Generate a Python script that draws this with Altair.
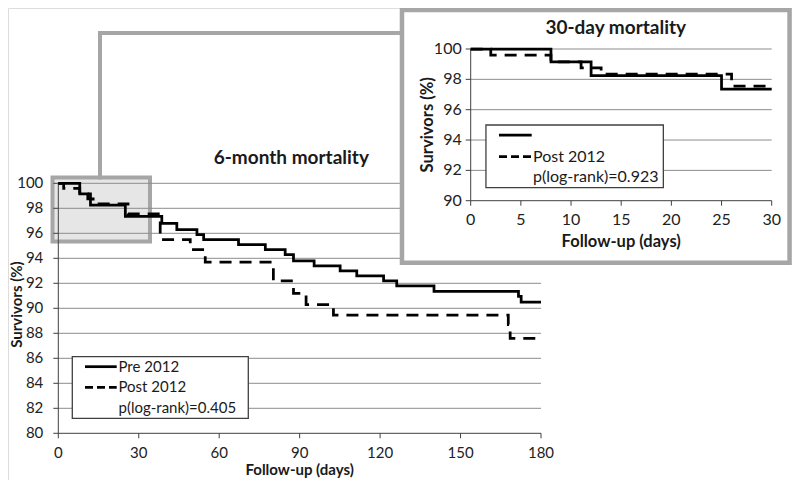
import altair as alt
import pandas as pd

# ---- data (Kaplan-Meier steps: day, survival % after the step)
PRE_DAYS = [0, 8, 12, 25, 38.6, 44.2, 51.7, 54.2, 67.2, 77.2, 84.6, 87.7, 95.4, 105.1,
            111.3, 121.3, 126.2, 140.1, 171.6, 172.6, 180]
PRE_SURV = [100, 99.15, 98.25, 97.35, 96.8, 96.3, 95.9, 95.5, 95.1, 94.7, 94.3, 93.8, 93.4,
            93.0, 92.6, 92.2, 91.8, 91.35, 90.95, 90.5, 90.5]
POST_DAYS = [0, 2, 8, 11, 13, 26, 38, 49.2, 54.8, 80.2, 87.7, 92.4, 102.6, 167.8, 168.5, 180]
POST_SURV = [100, 99.6, 99.15, 98.75, 98.35, 97.55, 95.5, 94.7, 93.7, 92.2, 91.2, 90.3,
             89.45, 88.7, 87.6, 87.6]
GROUPS = ["Pre 2012", "Post 2012"]
INSET_GROUP_LABELS = ["", "Post 2012"]

MAIN_X_TICKS = [0, 30, 60, 90, 120, 150, 180]
MAIN_Y_TICKS = [80, 82, 84, 86, 88, 90, 92, 94, 96, 98, 100]
INSET_X_TICKS = [0, 5, 10, 15, 20, 25, 30]
INSET_Y_TICKS = [90, 92, 94, 96, 98, 100]

MAIN_TITLE = "6-month mortality"
INSET_TITLE = "30-day mortality"
X_TITLE = "Follow-up (days)"
Y_TITLE = "Survivors (%)"
MAIN_P = "p(log-rank)=0.405"
INSET_P = "p(log-rank)=0.923"

# ---- annotation placements, in the data units of each panel
ZOOM_BOX = dict(x0=-2.16, x1=34.19, y0=95.34, y1=100.46)
CONNECTOR = dict(x=15.55, y=112.02, x_end=128.16)
MAIN_TITLE_POS = (86.9, 102.0)
MAIN_LEG_BOX = dict(x0=5.22, x1=70.85, y0=81.2, y1=86.13)
MAIN_LEG_SAMPLE = (9.96, 21.78)
MAIN_LEG_TEXT_X = 22.45
MAIN_LEG_ROWS = [85.33, 83.68, 82.06]

INSET_BOX = dict(x0=-6.85, x1=31.78, y0=85.91, y1=102.57)
INSET_TITLE_POS = (14.46, 101.36)
INSET_LEG_BOX = dict(x0=1.52, x1=19.2, y0=90.86, y1=94.99)
INSET_LEG_SAMPLE = (2.82, 6.08)
INSET_LEG_TEXT_X = 6.21
INSET_LEG_ROWS = [94.33, 92.90, 91.58]

W, H = 784, 472
FONT = "Lato"
GRID = "#8c8c8c"
FRAME = "#a6a6a6"
AXIS = "#404040"
INK = "#1a1a1a"

MX = alt.Scale(domain=[0, 180], range=[50.3, 533.0], nice=False, zero=False)
MY = alt.Scale(domain=[80, 100], range=[425.3, 175.3], nice=False, zero=False)
IX = alt.Scale(domain=[0, 30], range=[462.7, 763.7], nice=False, zero=False)
IY = alt.Scale(domain=[90, 100], range=[192.7, 41.0], nice=False, zero=False)


def X(field, s):
    return alt.X(field, scale=s, axis=None)


def Y(field, s):
    return alt.Y(field, scale=s, axis=None)


def curve(days, surv, limit):
    rows = []
    last = surv[0]
    for d, s in zip(days, surv):
        if d < limit:
            rows.append({"day": d, "surv": s})
            last = s
    rows.append({"day": limit, "surv": last})
    return pd.DataFrame(rows)


def rect_layer(box, sx, sy, fill, stroke, sw):
    df = pd.DataFrame([box])
    return alt.Chart(df).mark_rect(fill=fill, stroke=stroke, strokeWidth=sw).encode(
        x=X("x0:Q", sx), x2="x1:Q", y=Y("y0:Q", sy), y2="y1:Q")


def grid_layer(ticks, xdom, sx, sy):
    df = pd.DataFrame({"y": ticks, "x0": xdom[0], "x1": xdom[-1]})
    return alt.Chart(df).mark_rule(color=GRID, strokeWidth=1).encode(
        x=X("x0:Q", sx), x2="x1:Q", y=Y("y:Q", sy))


def line_layer(df, sx, sy, dash):
    kw = dict(interpolate="step-after", color="black", strokeWidth=2.75)
    if dash:
        kw["strokeDash"] = dash
    return alt.Chart(df).mark_line(**kw).encode(x=X("day:Q", sx), y=Y("surv:Q", sy))


def sample_layer(xs, y, sx, sy, dash):
    df = pd.DataFrame({"x0": [xs[0]], "x1": [xs[1]], "y": [y]})
    kw = dict(color="black", strokeWidth=2.75)
    if dash:
        kw["strokeDash"] = dash
    return alt.Chart(df).mark_rule(**kw).encode(x=X("x0:Q", sx), x2="x1:Q", y=Y("y:Q", sy))


def text_layer(xs, ys, texts, sx, sy, size, weight="normal", align="left",
               baseline="middle", angle=0, xoff=0, yoff=0, color=INK):
    df = pd.DataFrame({"x": xs, "y": ys, "t": texts})
    kw = dict(font=FONT, fontSize=size, fontWeight=weight, color=color, align=align,
              baseline=baseline, xOffset=xoff, yOffset=yoff)
    if angle:
        kw["angle"] = angle
    return alt.Chart(df).mark_text(**kw).encode(x=X("x:Q", sx), y=Y("y:Q", sy), text="t:N")


def axes_layers(xticks, yticks, sx, sy, lab_size, xlab_off, ylab_off, title_size,
                xtitle_off, ytitle_xoff, ytitle_v):
    x0, x1 = xticks[0], xticks[-1]
    y0, y1 = yticks[0], yticks[-1]
    xdom = alt.Chart(pd.DataFrame({"a": [x0], "b": [x1], "y": [y0]})).mark_rule(
        color=AXIS, strokeWidth=1).encode(x=X("a:Q", sx), x2="b:Q", y=Y("y:Q", sy))
    ydom = alt.Chart(pd.DataFrame({"a": [y0], "b": [y1], "x": [x0]})).mark_rule(
        color=AXIS, strokeWidth=1).encode(y=Y("a:Q", sy), y2="b:Q", x=X("x:Q", sx))
    xt = alt.Chart(pd.DataFrame({"x": xticks, "y": y0})).mark_rule(
        color=AXIS, strokeWidth=1, y2Offset=5).encode(x=X("x:Q", sx), y=Y("y:Q", sy), y2="y:Q")
    yt = alt.Chart(pd.DataFrame({"y": yticks, "x": x0})).mark_rule(
        color=AXIS, strokeWidth=1, x2Offset=-5).encode(y=Y("y:Q", sy), x=X("x:Q", sx), x2="x:Q")
    xl = text_layer(xticks, [y0] * len(xticks), [str(t) for t in xticks], sx, sy, lab_size,
                    align="center", yoff=xlab_off, color="#222222")
    yl = text_layer([x0] * len(yticks), yticks, [str(t) for t in yticks], sx, sy, lab_size,
                    align="right", xoff=ylab_off, color="#222222")
    xtt = text_layer([(x0 + x1) / 2], [y0], [X_TITLE], sx, sy, title_size, "bold", "center",
                     yoff=xtitle_off)
    ytt = text_layer([x0], [ytitle_v], [Y_TITLE], sx, sy, title_size, "bold", "center",
                     angle=270, xoff=ytitle_xoff)
    return [xdom, ydom, xt, yt, xl, yl, xtt, ytt]


# ---------------- main panel ----------------
connector_v = alt.Chart(pd.DataFrame({"x": [CONNECTOR["x"]], "y0": [ZOOM_BOX["y1"]],
                                      "y1": [CONNECTOR["y"]]})).mark_rule(
    color=FRAME, strokeWidth=4, strokeCap="square").encode(
    x=X("x:Q", MX), y=Y("y0:Q", MY), y2="y1:Q")
connector_h = alt.Chart(pd.DataFrame({"x0": [CONNECTOR["x"]], "x1": [CONNECTOR["x_end"]],
                                      "y": [CONNECTOR["y"]]})).mark_rule(
    color=FRAME, strokeWidth=4, strokeCap="square").encode(
    x=X("x0:Q", MX), x2="x1:Q", y=Y("y:Q", MY))

main = alt.layer(
    rect_layer(ZOOM_BOX, MX, MY, "#e6e6e6", FRAME, 4),
    grid_layer(MAIN_Y_TICKS[1:], MAIN_X_TICKS, MX, MY),
    *axes_layers(MAIN_X_TICKS, MAIN_Y_TICKS, MX, MY, 15, 19.5, -15, 15, 37.0, -41.3, 90.3),
    line_layer(curve(PRE_DAYS, PRE_SURV, 180), MX, MY, None),
    line_layer(curve(POST_DAYS, POST_SURV, 180), MX, MY, [12, 8]),
    connector_v,
    connector_h,
    rect_layer(MAIN_LEG_BOX, MX, MY, "white", "#404040", 1.3),
    sample_layer(MAIN_LEG_SAMPLE, MAIN_LEG_ROWS[0], MX, MY, None),
    sample_layer(MAIN_LEG_SAMPLE, MAIN_LEG_ROWS[1], MX, MY, [8, 4]),
    text_layer([MAIN_LEG_TEXT_X] * 3, MAIN_LEG_ROWS, GROUPS + [MAIN_P], MX, MY, 15),
    text_layer([MAIN_TITLE_POS[0]], [MAIN_TITLE_POS[1]], [MAIN_TITLE], MX, MY, 19, "bold",
               "center"),
)

# ---------------- inset panel ----------------
inset = alt.layer(
    rect_layer(INSET_BOX, IX, IY, "white", FRAME, 4.5),
    grid_layer(INSET_Y_TICKS[1:], INSET_X_TICKS, IX, IY),
    *axes_layers(INSET_X_TICKS, INSET_Y_TICKS, IX, IY, 16, 19.3, -9, 16.5, 41.0, -42.4, 95.0),
    line_layer(curve(PRE_DAYS, PRE_SURV, 30), IX, IY, None),
    line_layer(curve(POST_DAYS, POST_SURV, 30), IX, IY, [12, 8]),
    rect_layer(INSET_LEG_BOX, IX, IY, "white", "#404040", 1.3),
    sample_layer(INSET_LEG_SAMPLE, INSET_LEG_ROWS[0], IX, IY, None),
    sample_layer(INSET_LEG_SAMPLE, INSET_LEG_ROWS[1], IX, IY, [8, 4]),
    text_layer([INSET_LEG_TEXT_X] * 2, INSET_LEG_ROWS[1:], [INSET_GROUP_LABELS[1], INSET_P],
               IX, IY, 16),
    text_layer([INSET_TITLE_POS[0]], [INSET_TITLE_POS[1]], [INSET_TITLE], IX, IY, 19, "bold",
               "center"),
)

chart = alt.layer(main, inset).resolve_scale(x="independent", y="independent").properties(
    width=W, height=H, padding=0, autosize=alt.AutoSizeParams(type="none"),
    background="white",
).configure_view(stroke=None).configure(font=FONT)

chart.save("out.html", embed_options={"renderer": "svg", "actions": False})
